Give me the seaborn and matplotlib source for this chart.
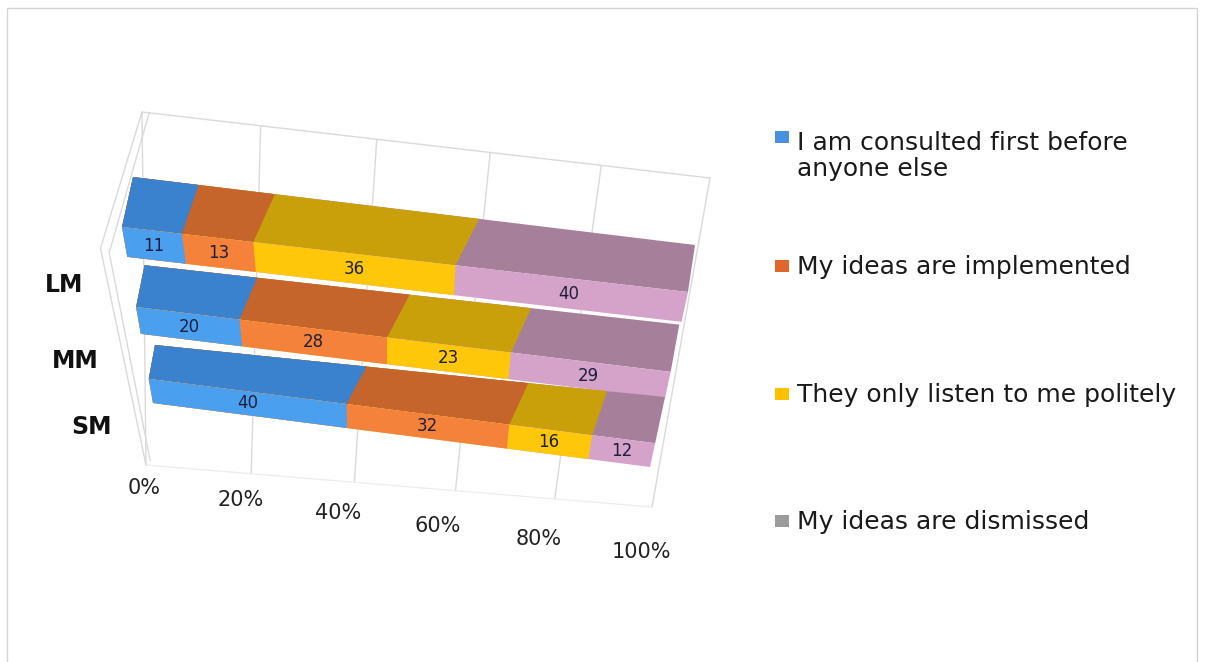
import numpy as np
import pandas as pd
import matplotlib
matplotlib.use("Agg")
import matplotlib.pyplot as plt
import seaborn as sns
from matplotlib.transforms import Transform, Affine2D
from matplotlib.patches import Rectangle

# ---------------------------------------------------------------- data
groups = ["LM", "MM", "SM"]
series = [
    "I am consulted first before\nanyone else",
    "My ideas are implemented",
    "They only listen to me politely",
    "My ideas are dismissed",
]
consulted = [11, 20, 40]
implemented = [13, 28, 32]
polite = [36, 23, 16]
dismissed = [40, 29, 12]
ticks = [0, 20, 40, 60, 80, 100]
tick_labels = ["0%", "20%", "40%", "60%", "80%", "100%"]

front_colors = ["#4A9FEF", "#F4823A", "#FFC70A", "#D5A2CA"]
top_colors = ["#3A81CE", "#C5642B", "#C9A00A", "#A6809A"]
key_colors = ["#4A90E2", "#E0662C", "#FFC000", "#9B9B9B"]

# ---------------------------------------------------------------- canvas
W, H = 1211, 662
BAR_W = 0.36
HALF = BAR_W / 2


def homography(src, dst):
    rows, rhs = [], []
    for (x, y), (u, v) in zip(src, dst):
        rows.append([x, y, 1, 0, 0, 0, -u * x, -u * y])
        rhs.append(u)
        rows.append([0, 0, 0, x, y, 1, -v * x, -v * y])
        rhs.append(v)
    h = np.linalg.solve(np.array(rows, float), np.array(rhs, float))
    return np.append(h, 1.0).reshape(3, 3)


def apply_h(Hm, pts):
    pts = np.asarray(pts, float).reshape(-1, 2)
    p = np.column_stack([pts, np.ones(len(pts))]) @ Hm.T
    return p[:, :2] / p[:, 2:3]


# perspective planes of the 3-D view (value %, category row) -> canvas pixels
H_FRONT = homography([(0, -HALF), (100, -HALF), (0, 2 + HALF), (100, 2 + HALF)],
                     [(122, 227), (688, 292), (153, 403), (650, 467)])
H_BACK = homography([(0, -HALF), (100, -HALF), (0, 2 - HALF), (100, 2 - HALF)],
                    [(133, 177), (695, 245), (155, 345), (665, 397)])
H_WALL = homography([(0, 0), (100, 0), (0, 1), (100, 1)],
                    [(142, 112), (710, 178), (146, 465), (652, 507)])


class Plane(Transform):
    input_dims = output_dims = 2
    is_separable = False
    has_inverse = False

    def __init__(self, Hm):
        super().__init__()
        self.Hm = Hm

    def transform_non_affine(self, values):
        return apply_h(self.Hm, values)


class TopFace(Transform):
    """Maps a bar rectangle onto the top face of its 3-D block."""
    input_dims = output_dims = 2
    is_separable = False
    has_inverse = False

    def transform_non_affine(self, values):
        v = np.asarray(values, float).reshape(-1, 2)
        row = np.round(v[:, 1])
        t = (row + HALF - v[:, 1]) / BAR_W
        edge = np.column_stack([v[:, 0], row - HALF])
        front = apply_h(H_FRONT, edge)
        back = apply_h(H_BACK, edge)
        return front + t[:, None] * (back - front)


sns.set_theme(style="white")
plt.rcParams["font.family"] = ["DejaVu Sans"]

fig = plt.figure(figsize=(W / 100, H / 100), dpi=100)
fig.patch.set_facecolor("white")
ax = fig.add_axes([0, 0, 1, 1])

values = np.array([consulted, implemented, polite, dismissed])
stack = np.cumsum(values, axis=0)


def draw_faces(trans, colors):
    # cumulative totals drawn from the longest down so each segment shows
    for k in range(len(series) - 1, -1, -1):
        n0 = len(ax.patches)
        sns.barplot(x=stack[k], y=groups, orient="h", color=colors[k],
                    width=BAR_W, saturation=1, errorbar=None,
                    linewidth=0, ax=ax)
        for p in ax.patches[n0:]:
            row = int(round(p.get_y() + p.get_height() / 2))
            p.set_transform(trans + ax.transData)
            p.set_zorder(3 + row)
            p.set_clip_on(False)


front_T = Plane(H_FRONT)
draw_faces(TopFace(), top_colors)
draw_faces(front_T, front_colors)

# back wall grid and side wall edges
wall_T = Plane(H_WALL) + ax.transData
grid_kw = dict(color="#DADADA", lw=1.0, zorder=1, clip_on=False)
for t in ticks:
    ax.plot([t, t], [0, 1], transform=wall_T, **grid_kw)
ax.plot([0, 100], [0, 0], transform=wall_T, **grid_kw)
ax.plot([0, 100], [1, 1], transform=wall_T, color="#EEEEEE", lw=1.0, zorder=1)
ax.plot([0, -7.5, 0], [0, 0.37, 1], transform=wall_T, **grid_kw)
ax.plot([1.2, -6.0, 0.8], [0, 0.38, 0.985], transform=wall_T, **grid_kw)

# value labels on the front faces
for k in range(len(series)):
    for i in range(len(groups)):
        ax.text(stack[k][i] - values[k][i] / 2, i, f"{values[k][i]}",
                transform=front_T + ax.transData, ha="center", va="center",
                fontsize=12, color="#1E1F3C", zorder=10)

# value axis labels along the floor
tick_T = front_T + ax.transData + Affine2D().translate(-9, -85)
for t, lab in zip(ticks, tick_labels):
    ax.text(t, 2 + HALF, lab, transform=tick_T, ha="center", va="center",
            fontsize=15, color="#222222", zorder=10)

# category labels
cat_shift = [(-41, -43), (-40, -40), (-39, -36)]
for i, g in enumerate(groups):
    cat_T = front_T + ax.transData + Affine2D().translate(*cat_shift[i])
    ax.text(0, i, g, transform=cat_T, ha="right", va="center",
            fontsize=17, fontweight="bold", color="#111111", zorder=10)

# legend
key_y = [137, 266, 394, 521]
text_y = [156, 267, 395, 522]
for lab, col, ky, ty in zip(series, key_colors, key_y, text_y):
    ax.add_patch(Rectangle((775, ky - 6), 14, 12, facecolor=col,
                           edgecolor="none", zorder=10))
    ax.text(797, ty, lab, ha="left", va="center", fontsize=18,
            color="#1A1A1A", linespacing=1.12, zorder=10)

# outer frame
ax.add_patch(Rectangle((7, 8), 1190, 660, fill=False, edgecolor="#D4D4D4",
                       lw=1.0, zorder=0))

ax.set_xlim(0, W)
ax.set_ylim(H, 0)
ax.set_axis_off()

fig.savefig("out.png", dpi=100, facecolor="white")
